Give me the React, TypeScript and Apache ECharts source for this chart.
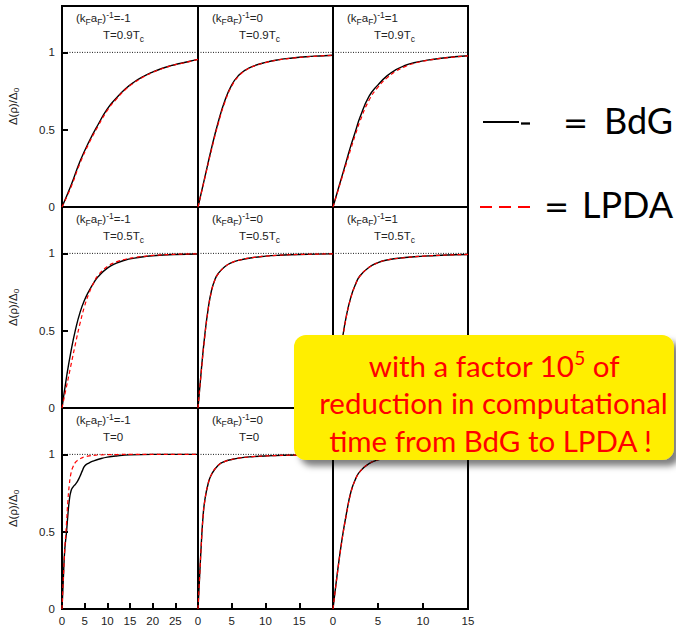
import React, { useEffect, useRef } from "react";
import * as echarts from "echarts";

// ---- panel labels ----
const kfaLabels = ["-1", "0", "1"]; // per column: (k_F a_F)^-1
const tempLabels = ["0.9", "0.5", ""]; // per row: T = x T_c ("" -> T=0)
const xMaxes = [30, 20, 15]; // per column
const yTickLabels = ["0", "0.5", "1"];

// ---- row 1: T = 0.9 Tc ----
const rhoTL = [0, 2, 4, 6, 8, 10, 12, 14, 16, 18, 20, 22, 24, 26, 28, 30];
const bdgTL = [0, 0.14, 0.297, 0.425, 0.535, 0.635, 0.705, 0.765, 0.81, 0.845, 0.873, 0.896, 0.914, 0.928, 0.941, 0.955];
const lpdaTL = [0, 0.13, 0.285, 0.415, 0.525, 0.625, 0.698, 0.76, 0.806, 0.842, 0.871, 0.894, 0.913, 0.927, 0.94, 0.955];

const rhoTM = [0, 1, 2, 3, 4, 5, 6, 7, 8, 10, 12, 14, 16, 18, 20];
const bdgTM = [0, 0.19, 0.38, 0.55, 0.69, 0.79, 0.85, 0.885, 0.908, 0.935, 0.953, 0.964, 0.972, 0.977, 0.981];
const lpdaTM = [0, 0.185, 0.37, 0.54, 0.68, 0.783, 0.845, 0.882, 0.906, 0.934, 0.952, 0.963, 0.971, 0.977, 0.981];

const rhoTR = [0, 0.5, 1, 1.5, 2, 2.5, 3, 4, 5, 6, 7, 8, 9, 10, 12, 15];
const bdgTR = [0, 0.1, 0.2, 0.3, 0.4, 0.49, 0.58, 0.715, 0.79, 0.848, 0.888, 0.915, 0.933, 0.945, 0.962, 0.978];
const lpdaTR = [0, 0.095, 0.19, 0.285, 0.38, 0.47, 0.555, 0.69, 0.775, 0.835, 0.878, 0.908, 0.929, 0.943, 0.961, 0.978];

// ---- row 2: T = 0.5 Tc ----
const rhoML = [0, 1, 2, 3, 4, 5, 6, 7, 8, 10, 12, 14, 16, 18, 20, 25, 30];
const bdgML = [0, 0.2, 0.37, 0.51, 0.62, 0.7, 0.76, 0.81, 0.85, 0.905, 0.937, 0.957, 0.969, 0.978, 0.985, 0.993, 0.996];
const lpdaML = [0, 0.14, 0.28, 0.42, 0.55, 0.66, 0.745, 0.81, 0.86, 0.915, 0.945, 0.962, 0.973, 0.981, 0.987, 0.994, 0.997];

const rhoMM = [0, 0.5, 1, 1.5, 2, 2.5, 3, 4, 5, 6, 8, 10, 12, 15, 20];
const bdgMM = [0, 0.25, 0.47, 0.64, 0.76, 0.83, 0.87, 0.915, 0.94, 0.955, 0.972, 0.982, 0.988, 0.993, 0.997];
const lpdaMM = [0, 0.24, 0.46, 0.635, 0.755, 0.828, 0.868, 0.914, 0.94, 0.955, 0.972, 0.982, 0.988, 0.993, 0.997];

const rhoMR = [0, 0.5, 1, 1.5, 2, 2.5, 3, 4, 5, 6, 8, 10, 12, 15];
const bdgMR = [0, 0.22, 0.43, 0.6, 0.72, 0.8, 0.855, 0.91, 0.94, 0.957, 0.973, 0.982, 0.988, 0.993];
const lpdaMR = [0, 0.215, 0.42, 0.595, 0.715, 0.798, 0.853, 0.909, 0.94, 0.957, 0.973, 0.982, 0.988, 0.993];

// ---- row 3: T = 0 ----
const rhoBLb = [0, 0.3, 0.6, 1, 1.3, 1.6, 2, 2.5, 3, 3.5, 4, 4.5, 5, 6, 7, 8.5, 10, 12, 15, 20, 30];
const bdgBL = [0, 0.2, 0.38, 0.5, 0.61, 0.7, 0.765, 0.792, 0.808, 0.83, 0.86, 0.895, 0.925, 0.945, 0.958, 0.972, 0.982, 0.99, 0.997, 1.0, 1.0];
const rhoBLl = [0, 0.3, 0.6, 1, 1.3, 1.6, 2, 2.5, 3, 3.5, 4, 5, 6, 7, 8.5, 10, 12, 15, 20, 30];
const lpdaBL = [0, 0.2, 0.38, 0.56, 0.7, 0.8, 0.88, 0.925, 0.95, 0.963, 0.972, 0.984, 0.99, 0.994, 0.997, 0.998, 0.999, 1, 1, 1];

const rhoBM = [0, 0.25, 0.5, 0.75, 1, 1.5, 2, 3, 4, 5, 6, 8, 10, 15, 20];
const bdgBM = [0, 0.22, 0.43, 0.6, 0.7, 0.81, 0.87, 0.93, 0.955, 0.967, 0.976, 0.985, 0.99, 0.996, 0.998];
const lpdaBM = [0, 0.215, 0.425, 0.595, 0.698, 0.81, 0.87, 0.93, 0.955, 0.967, 0.976, 0.985, 0.99, 0.996, 0.998];

const rhoBR = [0, 0.5, 1, 1.5, 2, 2.5, 3, 4, 5, 6, 8, 10, 15];
const bdgBR = [0, 0.24, 0.45, 0.62, 0.76, 0.84, 0.89, 0.94, 0.965, 0.978, 0.99, 0.995, 0.999];
const lpdaBR = [0, 0.235, 0.445, 0.615, 0.755, 0.838, 0.889, 0.94, 0.965, 0.978, 0.99, 0.995, 0.999];

const calloutLines = ["with a factor 10", "5", " of", "reduction in computational", "time from BdG to LPDA !"];

const zip = (xs: number[], ys: number[]) => xs.map((x, i) => [x, ys[i]]);

const panels = [
  { bdg: zip(rhoTL, bdgTL), lpda: zip(rhoTL, lpdaTL) },
  { bdg: zip(rhoTM, bdgTM), lpda: zip(rhoTM, lpdaTM) },
  { bdg: zip(rhoTR, bdgTR), lpda: zip(rhoTR, lpdaTR) },
  { bdg: zip(rhoML, bdgML), lpda: zip(rhoML, lpdaML) },
  { bdg: zip(rhoMM, bdgMM), lpda: zip(rhoMM, lpdaMM) },
  { bdg: zip(rhoMR, bdgMR), lpda: zip(rhoMR, lpdaMR) },
  { bdg: zip(rhoBLb, bdgBL), lpda: zip(rhoBLl, lpdaBL) },
  { bdg: zip(rhoBM, bdgBM), lpda: zip(rhoBM, lpdaBM) },
  { bdg: zip(rhoBR, bdgBR), lpda: zip(rhoBR, lpdaBR) },
];

const colLeft = [62, 198, 333];
const colWidth = [136, 135, 135];
const rowTop = [6, 207, 408];
const rowHeight = 201;
const AX_FONT = "'Liberation Sans', Arial, Helvetica, sans-serif";
const BIG_FONT = "Lato, 'Open Sans', sans-serif";

export default function App() {
  const ref = useRef<HTMLDivElement>(null);
  useEffect(() => {
    if (!ref.current) return;
    const chart = echarts.init(ref.current, undefined, { renderer: "svg" });
    const grids: any[] = [];
    const xAxes: any[] = [];
    const yAxes: any[] = [];
    const series: any[] = [];
    const graphics: any[] = [];
    for (let r = 0; r < 3; r++) {
      for (let c = 0; c < 3; c++) {
        const i = r * 3 + c;
        grids.push({
          left: colLeft[c],
          top: rowTop[r],
          width: colWidth[c],
          height: rowHeight,
          show: true,
          borderColor: "#000",
          borderWidth: 2,
          backgroundColor: "transparent",
          containLabel: false,
        });
        xAxes.push({
          gridIndex: i,
          type: "value",
          min: 0,
          max: xMaxes[c],
          interval: 5,
          axisLine: { show: false },
          splitLine: { show: false },
          axisTick: { show: r === 2, inside: true, length: 6, lineStyle: { color: "#000", width: 2 } },
          axisLabel: {
            show: r === 2,
            showMaxLabel: c === 2,
            showMinLabel: true,
            color: "#222",
            fontSize: 11.5,
            fontFamily: AX_FONT,
            margin: 6,
          },
        });
        yAxes.push({
          gridIndex: i,
          type: "value",
          min: 0,
          max: 1.3,
          interval: 0.5,
          axisLine: { show: false },
          splitLine: { show: false },
          axisTick: { show: c === 0, inside: true, length: 6, lineStyle: { color: "#000", width: 2 } },
          axisLabel: {
            show: c === 0,
            showMaxLabel: false,
            color: "#222",
            fontSize: 11.5,
            fontFamily: AX_FONT,
            margin: 7,
            formatter: (v: number) => (v === 0 ? yTickLabels[0] : v === 0.5 ? yTickLabels[1] : v === 1 ? yTickLabels[2] : ""),
          },
          name: c === 0 ? "{a|Δ(ρ)/Δ}{b|0}" : "",
          nameLocation: "middle",
          nameGap: 42,
          nameRotate: 90,
          nameTextStyle: {
            color: "#222",
            fontFamily: AX_FONT,
            rich: {
              a: { fontSize: 11.5, fontFamily: AX_FONT, color: "#222", lineHeight: 14 },
              b: { fontSize: 8, fontFamily: AX_FONT, color: "#222", lineHeight: 7, verticalAlign: "bottom" },
            },
          },
        });
        series.push({
          type: "line",
          xAxisIndex: i,
          yAxisIndex: i,
          data: [
            [0, 1],
            [xMaxes[c], 1],
          ],
          symbol: "none",
          silent: true,
          lineStyle: { color: "#000", width: 0.9, type: [1, 1.5] },
          z: 1,
        });
        series.push({
          type: "line",
          name: "BdG",
          xAxisIndex: i,
          yAxisIndex: i,
          data: panels[i].bdg,
          symbol: "none",
          smooth: 0.5,
          lineStyle: { color: "#000", width: 1.4 },
          z: 2,
        });
        series.push({
          type: "line",
          name: "LPDA",
          xAxisIndex: i,
          yAxisIndex: i,
          data: panels[i].lpda,
          symbol: "none",
          smooth: 0.5,
          lineStyle: { color: "#ff0000", width: 1.2, type: [4, 3] },
          z: 3,
        });
        // panel annotations (the bottom-right ones lie hidden under the callout)
        if (r === 2 && c === 2) continue;
        graphics.push({
          type: "text",
          left: colLeft[c] + 14,
          top: rowTop[r] + 4,
          z: 50,
          style: {
            text: `{n|(k}{s|F}{n|a}{s|F}{n|)}{p|-1}{n|=${kfaLabels[c]}}`,
            rich: {
              n: { fontSize: 11.5, fontFamily: AX_FONT, fill: "#222", lineHeight: 16 },
              s: { fontSize: 8.5, fontFamily: AX_FONT, fill: "#222", lineHeight: 8, verticalAlign: "bottom" },
              p: { fontSize: 8.5, fontFamily: AX_FONT, fill: "#222", lineHeight: 7, verticalAlign: "top" },
            },
          },
        });
        const tl = tempLabels[r];
        graphics.push({
          type: "text",
          left: colLeft[c] + 41,
          top: rowTop[r] + 23,
          z: 50,
          style: {
            text: tl ? `{n|T=${tl}T}{s|c}` : `{n|T=0}`,
            rich: {
              n: { fontSize: 11.5, fontFamily: AX_FONT, fill: "#222", lineHeight: 16 },
              s: { fontSize: 8.5, fontFamily: AX_FONT, fill: "#222", lineHeight: 8, verticalAlign: "bottom" },
            },
          },
        });
      }
    }

    // legend on the right
    graphics.push(
      { type: "line", shape: { x1: 483, y1: 122, x2: 519, y2: 122 }, style: { stroke: "#000", lineWidth: 2 }, z: 50 },
      { type: "line", shape: { x1: 521, y1: 123.5, x2: 530, y2: 123.5 }, style: { stroke: "#000", lineWidth: 2.3 }, z: 50 },
      {
        type: "text",
        x: 575.5,
        y: 122.5,
        z: 50,
        style: { text: "=", fontSize: 30, fontFamily: "'DejaVu Sans', sans-serif", fill: "#000", align: "center", verticalAlign: "middle" },
      },
      {
        type: "text",
        x: 604,
        y: 120,
        z: 50,
        style: { text: "BdG", fontSize: 36, fontFamily: BIG_FONT, fill: "#000", align: "left", verticalAlign: "middle" },
      },
      { type: "line", shape: { x1: 480, y1: 207, x2: 532, y2: 207 }, style: { stroke: "#ff0000", lineWidth: 2, lineDash: [12, 7] }, z: 50 },
      {
        type: "text",
        x: 556.5,
        y: 206,
        z: 50,
        style: { text: "=", fontSize: 30, fontFamily: "'DejaVu Sans', sans-serif", fill: "#000", align: "center", verticalAlign: "middle" },
      },
      {
        type: "text",
        x: 582,
        y: 203.5,
        z: 50,
        style: { text: "LPDA", fontSize: 36, fontFamily: BIG_FONT, fill: "#000", align: "left", verticalAlign: "middle" },
      }
    );

    // callout box
    graphics.push(
      {
        type: "rect",
        shape: { x: 294, y: 335, width: 380, height: 125, r: 12 },
        style: { fill: "#FFEE00", shadowBlur: 6, shadowOffsetX: 6, shadowOffsetY: 6, shadowColor: "rgba(0,0,0,0.5)" },
        z: 100,
      },
      {
        type: "text",
        x: 494,
        y: 365,
        z: 101,
        style: {
          text: `{t|${calloutLines[0]}}{s|${calloutLines[1]}}{t|${calloutLines[2]}}`,
          align: "center",
          verticalAlign: "middle",
          rich: {
            t: { fontSize: 29.5, fontFamily: BIG_FONT, fill: "#ff0000", lineHeight: 34 },
            s: { fontSize: 19, fontFamily: BIG_FONT, fill: "#ff0000", lineHeight: 20, verticalAlign: "top" },
          },
        },
      },
      {
        type: "text",
        x: 493.5,
        y: 402,
        z: 101,
        style: { text: calloutLines[3], fontSize: 29.5, fontFamily: BIG_FONT, fill: "#ff0000", align: "center", verticalAlign: "middle" },
      },
      {
        type: "text",
        x: 490.5,
        y: 440,
        z: 101,
        style: { text: calloutLines[4], fontSize: 29.5, fontFamily: BIG_FONT, fill: "#ff0000", align: "center", verticalAlign: "middle" },
      }
    );

    chart.setOption({
      animation: false,
      backgroundColor: "#fff",
      grid: grids,
      xAxis: xAxes,
      yAxis: yAxes,
      series,
      graphic: { elements: graphics },
    });
    return () => chart.dispose();
  }, []);
  return <div ref={ref} style={{ position: "absolute", left: 0, top: 0, width: 676, height: 627 }} />;
}
